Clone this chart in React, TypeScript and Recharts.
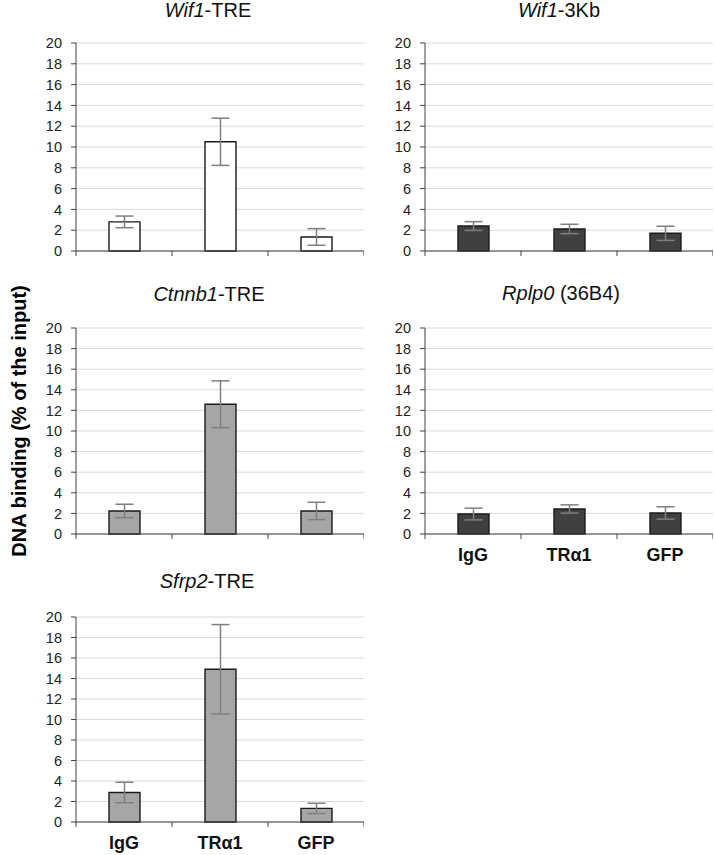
import React from 'react';
import { BarChart, Bar, XAxis, YAxis, CartesianGrid, ErrorBar } from 'recharts';

const categories = ['IgG', 'TRα1', 'GFP'];
const yTicks = [0, 2, 4, 6, 8, 10, 12, 14, 16, 18, 20];

const wif1TreValues = [2.8, 10.5, 1.35];
const wif1TreErrors = [0.56, 2.27, 0.8];
const wif13kbValues = [2.4, 2.12, 1.7];
const wif13kbErrors = [0.42, 0.45, 0.68];
const ctnnb1Values = [2.24, 12.6, 2.24];
const ctnnb1Errors = [0.65, 2.27, 0.84];
const rplp0Values = [1.94, 2.43, 2.04];
const rplp0Errors = [0.57, 0.4, 0.6];
const sfrp2Values = [2.88, 14.9, 1.33];
const sfrp2Errors = [1.0, 4.36, 0.5];

const FONT = '"Liberation Sans", Arial, sans-serif';

const build = (vals: number[], errs: number[]) =>
  categories.map((c, i) => ({ cat: c, value: vals[i], err: errs[i] }));

const TICK_MARGIN = 14;

function CatTick(props: any) {
  const { x, y, payload, index, showLabel } = props;
  const half = payload && typeof payload.offset === 'number' ? payload.offset : 0;
  const axisY = y - TICK_MARGIN;
  return (
    <g>
      {index === 0 && (
        <line x1={x - half} x2={x - half} y1={axisY} y2={axisY + 5} stroke="#404040" strokeWidth={1} />
      )}
      <line x1={x + half} x2={x + half} y1={axisY} y2={axisY + 5} stroke="#404040" strokeWidth={1} />
      {showLabel && (
        <text
          x={x}
          y={y}
          dy="0.71em"
          textAnchor="middle"
          fill="#111"
          fontSize={18}
          fontWeight="bold"
          fontFamily={FONT}
        >
          {payload.value}
        </text>
      )}
    </g>
  );
}

type PanelProps = {
  left: number;
  top: number;
  plotH: number;
  width: number;
  vals: number[];
  errs: number[];
  fill: string;
  showLabels: boolean;
};

const YW = 60;
const MT = 12;
const XH = 40;

function Panel({ left, top, plotH, width, vals, errs, fill, showLabels }: PanelProps) {
  const data = build(vals, errs);
  return (
    <div style={{ position: 'absolute', left: left - YW, top: top - MT }}>
      <BarChart
        width={width}
        height={MT + plotH + XH}
        data={data}
        margin={{ top: MT, right: 0, left: 0, bottom: 0 }}
        barSize={31}
      >
        <CartesianGrid vertical={false} stroke="#d9d9d9" strokeWidth={1} />
        <XAxis
          dataKey="cat"
          axisLine={{ stroke: '#404040', strokeWidth: 1 }}
          tickLine={false}
          tickSize={0}
          tickMargin={TICK_MARGIN}
          tick={<CatTick showLabel={showLabels} />}
          height={XH}
          interval={0}
        />
        <YAxis
          width={YW}
          domain={[0, 20]}
          ticks={yTicks}
          interval={0}
          axisLine={{ stroke: '#404040', strokeWidth: 1 }}
          tickLine={{ stroke: '#404040', strokeWidth: 1 }}
          tickSize={5}
          tickMargin={9}
          tick={{ fill: '#222', fontSize: 14.5, fontFamily: FONT }}
        />
        <Bar dataKey="value" fill={fill} stroke="#1a1a1a" strokeWidth={1.4} isAnimationActive={false}>
          <ErrorBar dataKey="err" width={9} stroke="#7f7f7f" strokeWidth={1.5} direction="y" />
        </Bar>
      </BarChart>
    </div>
  );
}

export default function App() {
  return (
    <div
      style={{
        position: 'absolute',
        left: 0,
        top: 0,
        width: 714,
        height: 855,
        overflow: 'hidden',
        background: '#fff',
        fontFamily: FONT,
      }}
    >
      <Panel left={76} top={43} plotH={208} width={YW + 288} vals={wif1TreValues} errs={wif1TreErrors} fill="#ffffff" showLabels={false} />
      <Panel left={425} top={43} plotH={208} width={YW + 288} vals={wif13kbValues} errs={wif13kbErrors} fill="#404040" showLabels={false} />
      <Panel left={76} top={328} plotH={206} width={YW + 288} vals={ctnnb1Values} errs={ctnnb1Errors} fill="#a6a6a6" showLabels={false} />
      <Panel left={425} top={328} plotH={206} width={YW + 288} vals={rplp0Values} errs={rplp0Errors} fill="#404040" showLabels={true} />
      <Panel left={76} top={617} plotH={205} width={YW + 288} vals={sfrp2Values} errs={sfrp2Errors} fill="#a6a6a6" showLabels={true} />
      <svg
        width={714}
        height={855}
        style={{ position: 'absolute', left: 0, top: 0, pointerEvents: 'none' }}
        fontFamily={FONT}
      >
        <text x={208} y={17} fontSize={20} textAnchor="middle" fill="#111">
          <tspan fontStyle="italic">Wif1</tspan>-TRE
        </text>
        <text x={559} y={17} fontSize={20} textAnchor="middle" fill="#111">
          <tspan fontStyle="italic">Wif1</tspan>-3Kb
        </text>
        <text x={209} y={301} fontSize={20} textAnchor="middle" fill="#111">
          <tspan fontStyle="italic">Ctnnb1</tspan>-TRE
        </text>
        <text x={561} y={300} fontSize={20} textAnchor="middle" fill="#111">
          <tspan fontStyle="italic">Rplp0</tspan> (36B4)
        </text>
        <text x={207} y={588} fontSize={20} textAnchor="middle" fill="#111">
          <tspan fontStyle="italic">Sfrp2</tspan>-TRE
        </text>
        <text
          x={0}
          y={0}
          transform="translate(26,421) rotate(-90)"
          fontSize={20}
          fontWeight="bold"
          textAnchor="middle"
          fill="#000"
        >
          DNA binding (% of the input)
        </text>
      </svg>
    </div>
  );
}
